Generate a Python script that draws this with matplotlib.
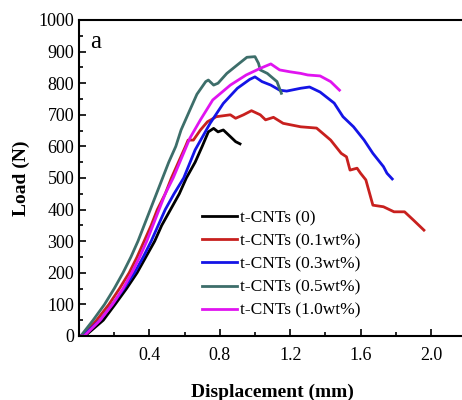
import matplotlib
matplotlib.use('Agg')
import matplotlib.pyplot as plt
from matplotlib.ticker import MultipleLocator

# displacement (mm) / load (N)
x_0 = [0.0, 0.034, 0.138, 0.205, 0.27, 0.33, 0.38, 0.43, 0.47, 0.52, 0.57, 0.61, 0.66, 0.70,
       0.735, 0.765, 0.79, 0.82, 0.86, 0.89, 0.915]
y_0 = [0, 0, 50, 100, 150, 200, 250, 300, 350, 400, 450, 500, 550, 600,
       646, 657, 646, 652, 631, 615, 608]

x_01 = [0.0, 0.02, 0.10, 0.17, 0.23, 0.285, 0.33, 0.37, 0.41, 0.445, 0.49, 0.525, 0.565, 0.605,
        0.62, 0.65, 0.69, 0.73, 0.78, 0.86, 0.89, 0.935, 0.98, 1.03, 1.06, 1.105, 1.16, 1.26,
        1.35, 1.43, 1.49, 1.52, 1.54, 1.58, 1.60, 1.63, 1.67, 1.73, 1.79, 1.85, 1.90, 1.96]
y_01 = [0, 0, 50, 100, 150, 200, 250, 300, 350, 400, 450, 500, 550, 600,
        620, 620, 652, 678, 694, 700, 689, 700, 713, 700, 684, 692, 673, 662,
        658, 620, 578, 567, 525, 531, 515, 494, 414, 409, 393, 393, 367, 335]

x_03 = [0.0, 0.02, 0.12, 0.19, 0.255, 0.315, 0.365, 0.41, 0.45, 0.49, 0.54, 0.595, 0.66, 0.745,
        0.82, 0.90, 0.97, 1.00, 1.04, 1.09, 1.14, 1.18, 1.26, 1.31, 1.37, 1.45, 1.50, 1.56,
        1.62, 1.67, 1.73, 1.75, 1.78]
y_03 = [0, 0, 50, 100, 150, 200, 250, 300, 350, 400, 450, 500, 589, 673,
        736, 784, 812, 820, 805, 794, 778, 775, 784, 788, 772, 737, 694, 662,
        620, 578, 536, 515, 497]

x_05 = [0.0, 0.01, 0.08, 0.145, 0.20, 0.25, 0.295, 0.335, 0.37, 0.405, 0.44, 0.475, 0.51, 0.55,
        0.58, 0.63, 0.67, 0.72, 0.735, 0.765, 0.79, 0.84, 0.90, 0.954, 1.0, 1.02, 1.03, 1.07,
        1.125, 1.15]
y_05 = [0, 0, 50, 100, 150, 200, 250, 300, 350, 400, 450, 500, 550, 600,
        652, 715, 765, 805, 810, 794, 800, 831, 858, 882, 884, 863, 842, 831,
        805, 768]

x_10 = [0.0, 0.03, 0.12, 0.19, 0.25, 0.30, 0.345, 0.385, 0.42, 0.455, 0.49, 0.535, 0.63, 0.69,
        0.76, 0.86, 0.95, 1.03, 1.09, 1.14, 1.20, 1.26, 1.30, 1.37, 1.43, 1.48]
y_10 = [0, 0, 50, 100, 150, 200, 250, 300, 350, 400, 450, 500, 626, 684,
        747, 794, 826, 847, 861, 842, 836, 831, 826, 823, 805, 778]

labels = ['t-CNTs (0)', 't-CNTs (0.1wt%)', 't-CNTs (0.3wt%)', 't-CNTs (0.5wt%)', 't-CNTs (1.0wt%)']
colors = ['#000000', '#c8201e', '#1414e6', '#3d6e6a', '#e014f0']

plt.rcParams['font.family'] = ['Liberation Serif', 'DejaVu Serif']

fig = plt.figure(figsize=(4.62, 4.0), dpi=100)
ax = fig.add_axes([0.171, 0.16, 0.838, 0.79])

series = [(x_0, y_0), (x_01, y_01), (x_03, y_03), (x_05, y_05), (x_10, y_10)]
for (xs, ys), lab, col in zip(series, labels, colors):
    ax.plot(xs, ys, color=col, lw=2, label=lab)

ax.set_xlim(0, 2.2)
ax.set_ylim(0, 1000)
ax.xaxis.set_minor_locator(MultipleLocator(0.2))
ax.yaxis.set_major_locator(MultipleLocator(100))
ax.yaxis.set_minor_locator(MultipleLocator(50))
ax.set_xticks([0.4, 0.8, 1.2, 1.6, 2.0])
ax.set_xticklabels(['0.4', '0.8', '1.2', '1.6', '2.0'])
ax.tick_params(which='both', direction='in', labelsize=13, width=1.2)
ax.tick_params(which='major', length=5)
ax.tick_params(which='minor', length=3)
ax.tick_params(axis='x', pad=8)
for s in ax.spines.values():
    s.set_linewidth(1.5)

ax.set_xlabel('Displacement (mm)', fontsize=14, fontweight='bold', labelpad=14)
ax.set_ylabel('Load (N)', fontsize=14, fontweight='bold', labelpad=6)
ax.text(0.03, 0.93, 'a', transform=ax.transAxes, fontsize=18, va='center')

ax.legend(loc='upper left', bbox_to_anchor=(0.3, 0.42), frameon=False, fontsize=12.5,
          handlelength=2.0, handletextpad=0.2, labelspacing=0.4, borderaxespad=0)

fig.savefig('out.png', dpi=100)
